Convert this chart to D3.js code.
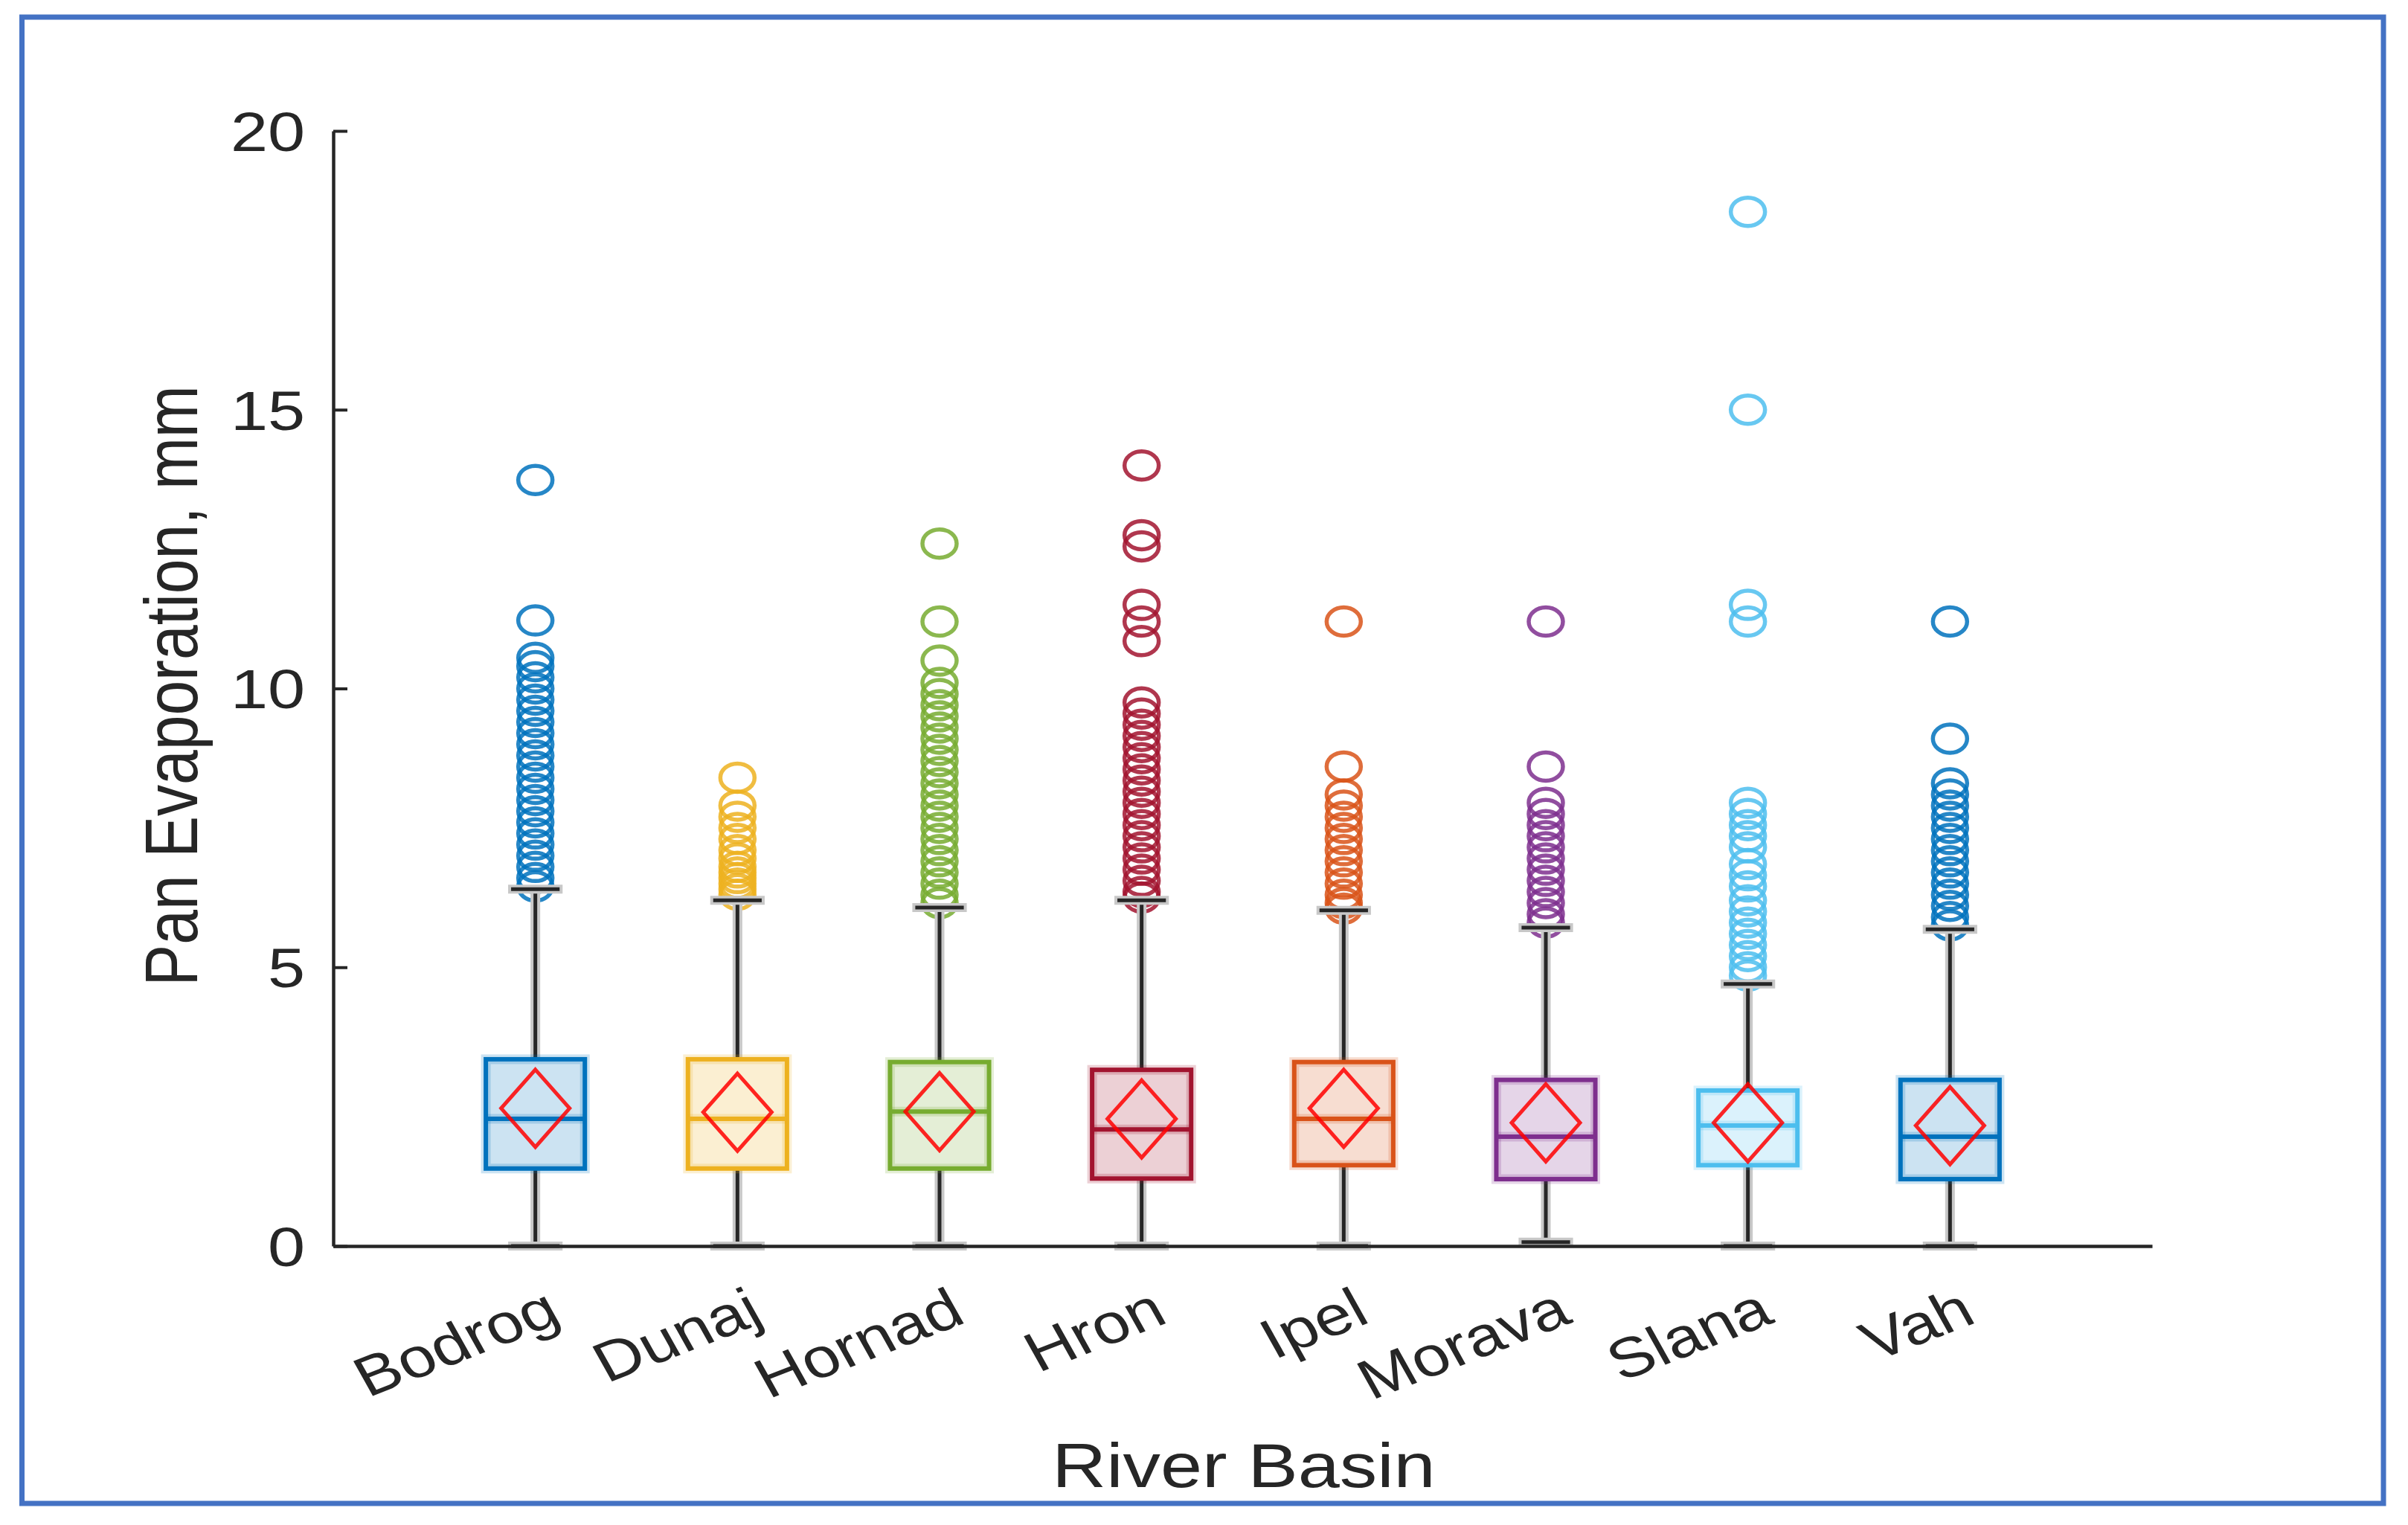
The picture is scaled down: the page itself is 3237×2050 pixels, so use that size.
<!DOCTYPE html>
<html><head><meta charset="utf-8">
<script src="https://cdn.jsdelivr.net/npm/d3@7"></script>
<style>body{margin:0;background:#fff} svg{display:block}</style>
</head><body>
<svg id="chart" width="3237" height="2050"></svg>
<script>
// ---------- data ----------
const categories = ["Bodrog","Dunaj","Hornad","Hron","Ipel","Morava","Slana","Vah"];
const q1 = [1.39,1.39,1.39,1.21,1.45,1.20,1.45,1.20];
const medians = [2.28,2.28,2.41,2.09,2.28,1.96,2.16,1.96];
const q3 = [3.35,3.35,3.30,3.16,3.30,2.98,2.79,2.98];
const means = [2.47,2.40,2.41,2.28,2.47,2.21,2.21,2.16];
const whiskerLow = [0,0,0,0,0,0.07,0,0];
const whiskerHigh = [6.40,6.20,6.07,6.20,6.02,5.71,4.70,5.68];

const outliersBodrog = [13.74,11.22,10.55,10.4,10.2,10.0,9.8,9.6,9.4,9.2,9.0,8.8,8.6,8.4,8.2,8.0,7.8,7.6,7.4,7.2,7.0,6.8,6.6,6.45];
const outliersDunaj = [8.4,7.9,7.7,7.5,7.3,7.1,6.95,6.8,6.7,6.6,6.5,6.4,6.3];
const outliersHornad = [12.6,11.2,10.5,10.1,9.9,9.7,9.5,9.3,9.1,8.9,8.7,8.5,8.3,8.1,7.9,7.7,7.5,7.3,7.1,6.9,6.7,6.5,6.3,6.15];
const outliersHron = [14.0,12.75,12.55,11.5,11.2,10.85,9.75,9.55,9.35,9.15,8.95,8.75,8.55,8.35,8.15,7.95,7.75,7.55,7.35,7.15,6.95,6.75,6.55,6.35,6.25];
const outliersIpel = [11.2,8.6,8.1,7.9,7.7,7.5,7.3,7.1,6.9,6.7,6.5,6.3,6.15,6.05];
const outliersMorava = [11.2,8.6,7.95,7.75,7.55,7.35,7.15,6.95,6.75,6.55,6.35,6.15,5.95,5.8];
const outliersSlana = [18.55,15.0,11.5,11.2,7.95,7.75,7.55,7.35,7.15,6.85,6.65,6.45,6.2,6.0,5.8,5.6,5.4,5.2,5.0,4.85];
const outliersVah = [11.2,9.1,8.3,8.1,7.9,7.7,7.5,7.3,7.1,6.9,6.7,6.5,6.3,6.1,5.9,5.75];
const outliers = [outliersBodrog,outliersDunaj,outliersHornad,outliersHron,outliersIpel,outliersMorava,outliersSlana,outliersVah];

const yTickValues = [0,5,10,15,20];
const yLabel = "Pan Evaporation, mm";
const xLabel = "River Basin";

// ---------- styles ----------
const colors = ["#0072BD","#EDB120","#77AC30","#A2142F","#D95319","#7E2F8E","#4DBEEE","#0072BD"];
const ink = "#262626";
const stretch = 1.2;

const svg = d3.select("#chart");
svg.append("rect").attr("width",3237).attr("height",2050).attr("fill","#fff");
svg.append("rect").attr("x",29.5).attr("y",23).attr("width",3174.5).attr("height",1998)
  .attr("fill","none").attr("stroke","#4472C4").attr("stroke-width",7);

const x = d3.scalePoint().domain(categories).range([448,2893]).padding(1);
const y = d3.scaleLinear().domain([0,20]).range([1675,176]);
const unit = x.step();
const boxHW = 0.245*unit;
const capHW = 0.12*unit;

const data = categories.map((c,i)=>({c, i, q1:q1[i], med:medians[i], q3:q3[i], mean:means[i],
  lo:whiskerLow[i], hi:whiskerHigh[i], out:outliers[i], col:colors[i]}));

const g = svg.append("g");
const grp = g.selectAll("g.b").data(data).join("g").attr("class","b");

// outliers
grp.each(function(d){
  d3.select(this).selectAll("ellipse").data(d.out).join("ellipse")
    .attr("cx", x(d.c)).attr("cy", v=>y(v)).attr("rx",23).attr("ry",19)
    .attr("fill","none").attr("stroke",d.col).attr("stroke-width",5.5).attr("stroke-opacity",0.85);
});

// whiskers
function whisk(sel, a, b){
  sel.append("line").attr("x1",d=>x(d.c)).attr("x2",d=>x(d.c)).attr("y1",d=>y(d[a])).attr("y2",d=>y(d[b]))
    .attr("stroke","#c8c8c8").attr("stroke-width",13);
  sel.append("line").attr("x1",d=>x(d.c)).attr("x2",d=>x(d.c)).attr("y1",d=>y(d[a])).attr("y2",d=>y(d[b]))
    .attr("stroke",ink).attr("stroke-width",5);
}
whisk(grp,"q3","hi");
whisk(grp,"q1","lo");
function cap(sel, k){
  sel.append("line").attr("x1",d=>x(d.c)-capHW-4).attr("x2",d=>x(d.c)+capHW+4).attr("y1",d=>y(d[k])).attr("y2",d=>y(d[k]))
    .attr("stroke","#c8c8c8").attr("stroke-width",12);
  sel.append("line").attr("x1",d=>x(d.c)-capHW).attr("x2",d=>x(d.c)+capHW).attr("y1",d=>y(d[k])).attr("y2",d=>y(d[k]))
    .attr("stroke",ink).attr("stroke-width",5);
}
cap(grp,"hi");
cap(grp,"lo");

// boxes
grp.append("rect").attr("x",d=>x(d.c)-boxHW).attr("y",d=>y(d.q3)).attr("width",2*boxHW).attr("height",d=>y(d.q1)-y(d.q3))
  .attr("fill",d=>d.col).attr("fill-opacity",0.2).attr("stroke",d=>d.col).attr("stroke-opacity",0.2).attr("stroke-width",13);
grp.append("rect").attr("x",d=>x(d.c)-boxHW).attr("y",d=>y(d.q3)).attr("width",2*boxHW).attr("height",d=>y(d.q1)-y(d.q3))
  .attr("fill","none").attr("stroke",d=>d.col).attr("stroke-width",6);
grp.append("line").attr("x1",d=>x(d.c)-boxHW).attr("x2",d=>x(d.c)+boxHW).attr("y1",d=>y(d.med)).attr("y2",d=>y(d.med))
  .attr("stroke",d=>d.col).attr("stroke-opacity",0.2).attr("stroke-width",13);
grp.append("line").attr("x1",d=>x(d.c)-boxHW).attr("x2",d=>x(d.c)+boxHW).attr("y1",d=>y(d.med)).attr("y2",d=>y(d.med))
  .attr("stroke",d=>d.col).attr("stroke-width",6);

// mean diamonds
grp.append("path").attr("d",d=>{const cx=x(d.c), cy=y(d.mean);
    return `M${cx},${cy-52}L${cx+46},${cy}L${cx},${cy+52}L${cx-46},${cy}Z`;})
  .attr("fill","none").attr("stroke","#ff0000").attr("stroke-opacity",0.85).attr("stroke-width",5);

// axes
const font = "'Liberation Sans', Arial, sans-serif";
const yAxis = svg.append("g").attr("transform","translate(448,0)")
  .call(d3.axisLeft(y).tickValues(yTickValues).tickSizeInner(-19).tickSizeOuter(0).tickPadding(0));
yAxis.select(".domain").attr("stroke",ink).attr("stroke-width",4.5);
yAxis.selectAll(".tick line").attr("stroke",ink).attr("stroke-width",4);
yAxis.selectAll(".tick text").attr("x",0).attr("dy","0.35em").attr("text-anchor","end")
  .attr("transform",`translate(-38,0) scale(${stretch},1)`)
  .attr("font-family",font).attr("font-size",75).attr("fill",ink);

const xAxis = svg.append("g").attr("transform","translate(0,1675)")
  .call(d3.axisBottom(x).tickSizeInner(0).tickSizeOuter(0).tickPadding(0));
xAxis.select(".domain").attr("stroke",ink).attr("stroke-width",4.5);
xAxis.selectAll(".tick line").remove();
xAxis.selectAll(".tick text").attr("x",0).attr("y",0).attr("dy","0.35em").attr("text-anchor","end")
  .attr("transform",`translate(24,78) scale(${stretch},1) rotate(-25)`)
  .attr("font-family",font).attr("font-size",75).attr("fill",ink);

svg.append("text").text(yLabel).attr("text-anchor","middle")
  .attr("transform",`translate(265,922) scale(${stretch},1) rotate(-90)`)
  .attr("font-family",font).attr("font-size",84).attr("fill",ink);
svg.append("text").text(xLabel).attr("text-anchor","middle")
  .attr("transform",`translate(1672,1999) scale(${stretch},1)`)
  .attr("font-family",font).attr("font-size",84).attr("fill",ink);
</script>
</body></html>
